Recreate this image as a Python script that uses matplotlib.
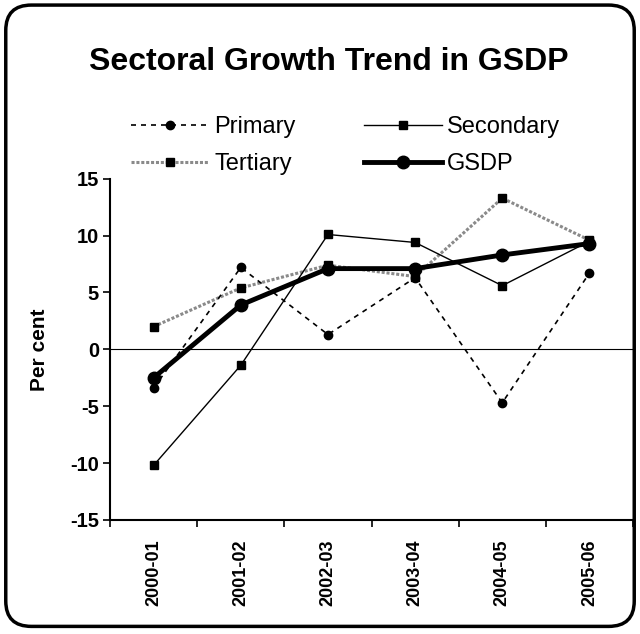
import matplotlib
matplotlib.use("Agg")
import matplotlib.pyplot as plt
from matplotlib.patches import FancyBboxPatch
import numpy as np

plt.rcParams['font.family'] = ['Liberation Sans', 'DejaVu Sans']

years = ["2000-01", "2001-02", "2002-03", "2003-04", "2004-05", "2005-06"]
primary = [-3.4, 7.2, 1.3, 6.3, -4.7, 6.7]
secondary = [-10.2, -1.4, 10.1, 9.4, 5.6, 9.5]
tertiary = [2.0, 5.4, 7.4, 6.4, 13.3, 9.6]
gsdp = [-2.5, 3.9, 7.1, 7.1, 8.3, 9.3]
yticks = [-15, -10, -5, 0, 5, 10, 15]

fig = plt.figure(figsize=(6.4, 6.34), dpi=100)
border = FancyBboxPatch((0.009, 0.012), 0.982, 0.98, boxstyle="round,pad=0,rounding_size=0.04",
                        transform=fig.transFigure, facecolor='white', edgecolor='black',
                        linewidth=2.5, zorder=-1)
fig.patches.append(border)

ax = fig.add_axes([0.172, 0.180, 0.817, 0.538])
ax.set_facecolor('none')
x = np.arange(len(years))

l1, = ax.plot(x, primary, color='black', linestyle=(0, (3, 3)), linewidth=1.2,
              marker='o', markersize=6, label='Primary', zorder=3)
l2, = ax.plot(x, secondary, color='black', linestyle='-', linewidth=1.0,
              marker='s', markersize=6, label='Secondary', zorder=3)
l3, = ax.plot(x, tertiary, color='#8a8a8a', linestyle=(0, (1, 0.6)), linewidth=2.2,
              marker='s', markersize=6, markerfacecolor='black', markeredgecolor='black',
              label='Tertiary', zorder=2)
l4, = ax.plot(x, gsdp, color='black', linestyle='-', linewidth=3.5,
              marker='o', markersize=9, label='GSDP', zorder=4)

ax.axhline(0, color='black', linewidth=0.8, zorder=1)

ax.set_xlim(-0.5, len(years) - 0.5)
ax.set_ylim(-15, 15)
ax.set_yticks(yticks)
ax.set_yticklabels([str(v) for v in yticks], fontsize=14.5, fontweight='bold')
ax.set_xticks(x)
ax.set_xticklabels(years, rotation=90, fontsize=13, fontweight='bold')
ax.set_xticks(np.arange(-0.5, len(years)), minor=True)
ax.tick_params(axis='x', which='major', length=0, pad=14)
ax.tick_params(axis='x', which='minor', length=5, direction='out', width=1.2)
ax.tick_params(axis='y', length=5, direction='out', width=1.2, pad=3)
for s in ['top', 'right']:
    ax.spines[s].set_visible(False)
for s in ['left', 'bottom']:
    ax.spines[s].set_linewidth(1.5)
ax.set_ylabel('Per cent', fontsize=15, fontweight='bold', labelpad=15)

fig.text(0.514, 0.902, 'Sectoral Growth Trend in GSDP', ha='center', va='center',
         fontsize=23, fontweight='bold')

leg = fig.legend(handles=[l1, l3, l2, l4], loc='center', bbox_to_anchor=(0.54, 0.770),
                 ncol=2, frameon=False, fontsize=17, handlelength=3.3,
                 columnspacing=2.9, handletextpad=0.2, labelspacing=0.65,
                 borderpad=0, borderaxespad=0)

fig.savefig('out.png', dpi=100)
